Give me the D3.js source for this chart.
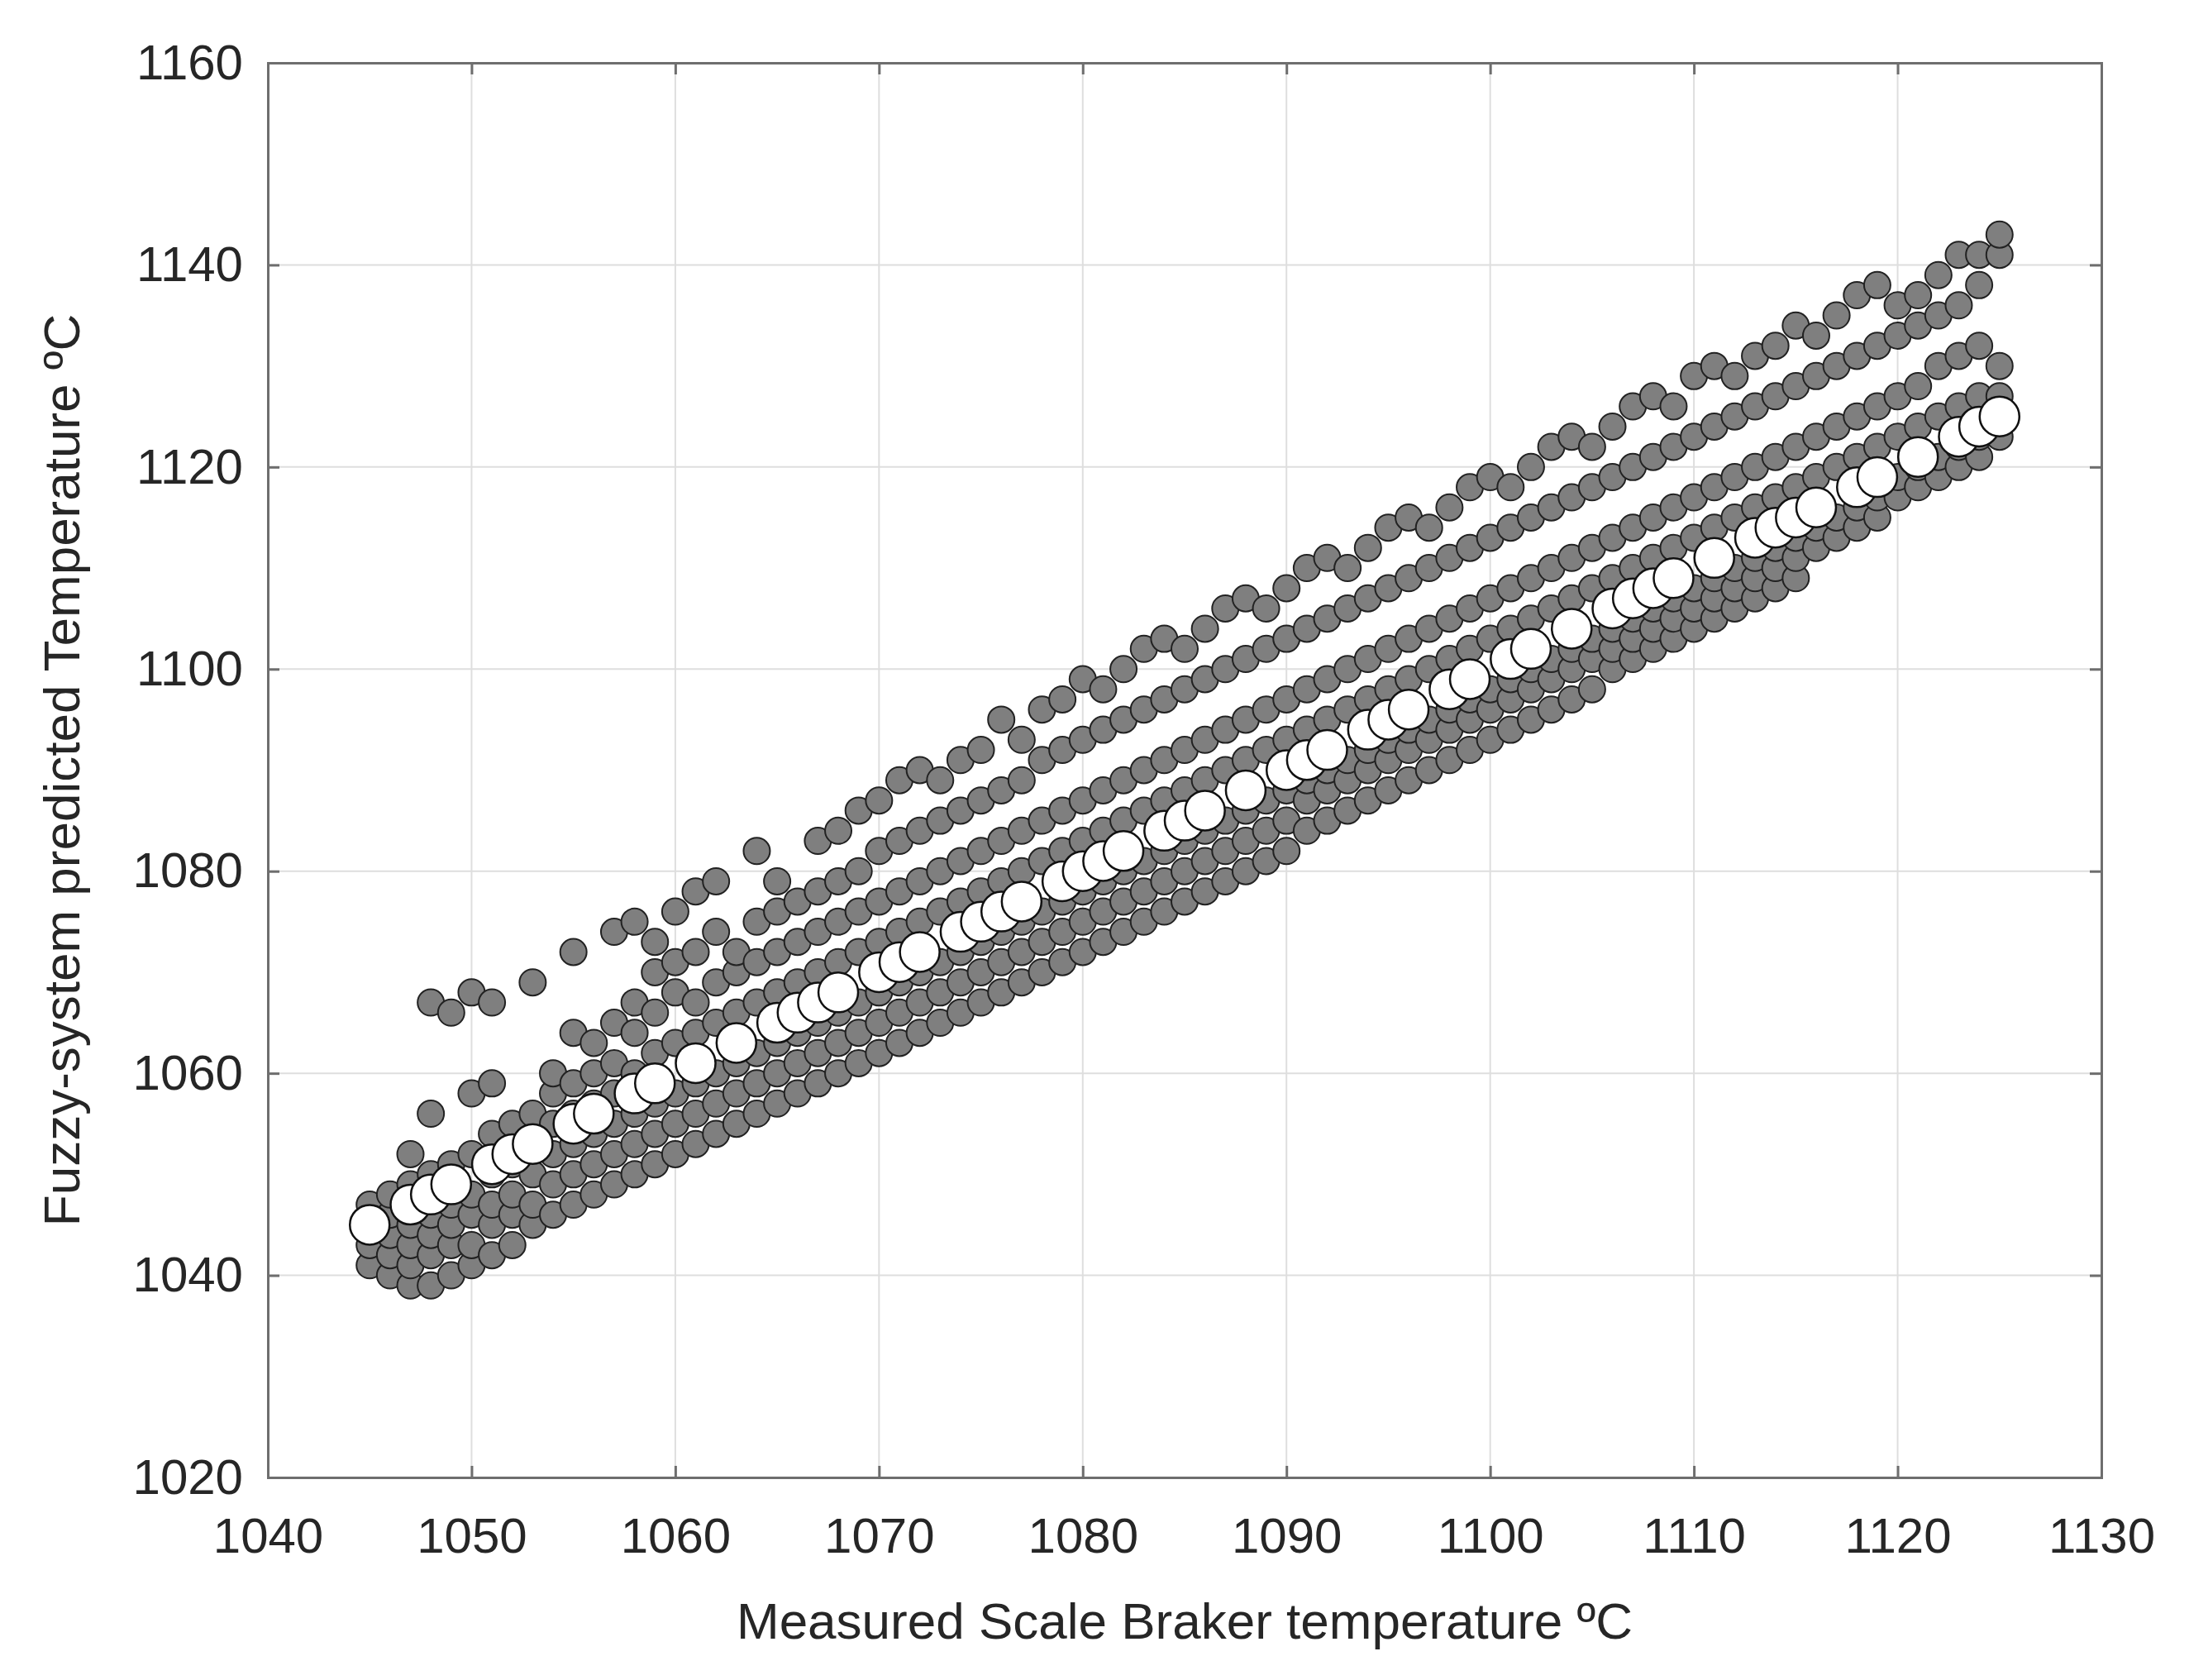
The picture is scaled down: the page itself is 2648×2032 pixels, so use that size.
<!doctype html>
<html lang="en">
<head>
  <meta charset="utf-8">
  <title>Fuzzy system prediction</title>
  <style>
    body { margin: 0; background: #fff; }
    text { font-family: "Liberation Sans", Arial, sans-serif; fill: #262626; }
  </style>
</head>
<body>
  <div id="chart"></div>
  <script src="https://cdn.jsdelivr.net/npm/d3@7"></script>
  <script>
  // measured temperature -> predicted temperatures (grey points)
  var grey = [
    [1045,[1041,1043,1045,1047]],
    [1046,[1040,1042,1044,1046,1048]],
    [1047,[1039,1041,1043,1045,1049,1052]],
    [1048,[1039,1042,1044,1046,1050,1056,1067]],
    [1049,[1040,1043,1045,1047,1051,1066]],
    [1050,[1041,1043,1046,1048,1052,1058,1068]],
    [1051,[1042,1045,1047,1050,1054,1059,1067]],
    [1052,[1043,1046,1048,1051,1055]],
    [1053,[1045,1047,1050,1053,1056,1069]],
    [1054,[1046,1049,1052,1055,1058,1060]],
    [1055,[1047,1050,1053,1056,1059,1064,1072]],
    [1056,[1048,1051,1054,1057,1060,1063]],
    [1057,[1049,1052,1055,1058,1061,1065,1074]],
    [1058,[1050,1053,1056,1060,1064,1067,1075]],
    [1059,[1051,1054,1057,1062,1066,1070,1073]],
    [1060,[1052,1055,1058,1063,1068,1071,1076]],
    [1061,[1053,1056,1059,1064,1067,1072,1078]],
    [1062,[1054,1057,1060,1065,1069,1074,1079]],
    [1063,[1055,1058,1061,1066,1070,1072]],
    [1064,[1056,1059,1062,1067,1071,1075,1082]],
    [1065,[1057,1060,1063,1068,1072,1076,1079]],
    [1066,[1058,1061,1064,1069,1073,1077]],
    [1067,[1059,1062,1065,1070,1074,1078,1083]],
    [1068,[1060,1063,1066,1071,1075,1079,1084]],
    [1069,[1061,1064,1067,1072,1076,1080,1086]],
    [1070,[1062,1065,1068,1073,1077,1082,1087]],
    [1071,[1063,1066,1069,1074,1078,1083,1089]],
    [1072,[1064,1067,1070,1075,1079,1084,1090]],
    [1073,[1065,1068,1071,1076,1080,1085,1089]],
    [1074,[1066,1069,1072,1077,1081,1086,1091]],
    [1075,[1067,1070,1073,1078,1082,1087,1092]],
    [1076,[1068,1071,1074,1079,1083,1088,1095]],
    [1077,[1069,1072,1075,1080,1084,1089,1093]],
    [1078,[1070,1073,1076,1081,1085,1091,1096]],
    [1079,[1071,1074,1077,1082,1086,1092,1097]],
    [1080,[1072,1075,1078,1083,1087,1093,1099]],
    [1081,[1073,1076,1079,1084,1088,1094,1098]],
    [1082,[1074,1077,1080,1085,1089,1095,1100]],
    [1083,[1075,1078,1081,1086,1090,1096,1102]],
    [1084,[1076,1079,1082,1087,1091,1097,1103]],
    [1085,[1077,1080,1083,1088,1092,1098,1102]],
    [1086,[1078,1081,1084,1089,1093,1099,1104]],
    [1087,[1079,1082,1085,1090,1094,1100,1106]],
    [1088,[1080,1083,1086,1091,1095,1101,1107]],
    [1089,[1081,1084,1087,1092,1096,1102,1106]],
    [1090,[1082,1085,1088,1093,1097,1103,1108]],
    [1091,[1084,1087,1089,1094,1098,1104,1110]],
    [1092,[1085,1088,1090,1095,1099,1105,1111]],
    [1093,[1086,1089,1091,1096,1100,1106,1110]],
    [1094,[1087,1090,1092,1097,1101,1107,1112]],
    [1095,[1088,1091,1093,1098,1102,1108,1114]],
    [1096,[1089,1092,1094,1099,1103,1109,1115]],
    [1097,[1090,1093,1095,1100,1104,1110,1114]],
    [1098,[1091,1094,1096,1101,1105,1111,1116]],
    [1099,[1092,1095,1097,1102,1106,1112,1118]],
    [1100,[1093,1096,1098,1103,1107,1113,1119]],
    [1101,[1094,1097,1099,1104,1108,1114,1118]],
    [1102,[1095,1098,1100,1105,1109,1115,1120]],
    [1103,[1096,1099,1101,1106,1110,1116,1122]],
    [1104,[1097,1100,1102,1107,1111,1117,1123]],
    [1105,[1098,1101,1103,1108,1112,1118,1122]],
    [1106,[1100,1102,1104,1109,1113,1119,1124]],
    [1107,[1101,1103,1105,1110,1114,1120,1126]],
    [1108,[1102,1104,1106,1111,1115,1121,1127]],
    [1109,[1103,1105,1107,1112,1116,1122,1126]],
    [1110,[1104,1106,1108,1113,1117,1123,1129]],
    [1111,[1105,1107,1109,1114,1118,1124,1130]],
    [1112,[1106,1108,1110,1115,1119,1125,1129]],
    [1113,[1107,1109,1111,1116,1120,1126,1131]],
    [1114,[1108,1110,1112,1117,1121,1127,1132]],
    [1115,[1109,1111,1113,1118,1122,1128,1134]],
    [1116,[1112,1114,1119,1123,1129,1133]],
    [1117,[1113,1115,1120,1124,1130,1135]],
    [1118,[1114,1116,1121,1125,1131,1137]],
    [1119,[1115,1117,1122,1126,1132,1138]],
    [1120,[1117,1119,1123,1127,1133,1136]],
    [1121,[1118,1120,1124,1128,1134,1137]],
    [1122,[1119,1121,1125,1130,1135,1139]],
    [1123,[1120,1122,1126,1131,1136,1141]],
    [1124,[1121,1123,1127,1132,1138,1141]],
    [1125,[1123,1125,1127,1130,1141,1143]]
  ];
  // measured values shown as white reference points (predicted = measured)
  var ideal = [1045,1047,1048,1049,1051,1052,1053,1055,1056,1058,1059,1061,1063,1065,1066,1067,1068,
    1070,1071,1072,1074,1075,1076,1077,1079,1080,1081,1082,1084,1085,1086,1088,1090,1091,1092,1094,
    1095,1096,1098,1099,1101,1102,1104,1106,1107,1108,1109,1111,1113,1114,1115,1116,1118,1119,1121,
    1123,1124,1125];
  var xTicks = [1040,1050,1060,1070,1080,1090,1100,1110,1120,1130];
  var yTicks = [1020,1040,1060,1080,1100,1120,1140,1160];

  var width = 2648, height = 2032;
  var m = {left: 324, right: 2542, top: 76, bottom: 1787};

  var x = d3.scaleLinear().domain([1040, 1130]).range([m.left, m.right]);
  var y = d3.scaleLinear().domain([1020, 1160]).range([m.bottom, m.top]);

  var svg = d3.select("#chart").append("svg")
      .attr("width", width).attr("height", height);

  // grid
  svg.append("g").selectAll("line").data(xTicks).enter().append("line")
    .attr("x1", x).attr("x2", x).attr("y1", m.top).attr("y2", m.bottom)
    .attr("stroke", "#dedede").attr("stroke-width", 2);
  svg.append("g").selectAll("line").data(yTicks).enter().append("line")
    .attr("y1", y).attr("y2", y).attr("x1", m.left).attr("x2", m.right)
    .attr("stroke", "#dedede").attr("stroke-width", 2);

  var pts = [];
  grey.forEach(function(r) { r[1].forEach(function(v) { pts.push([r[0], v]); }); });

  svg.append("g").selectAll("circle").data(pts).enter().append("circle")
    .attr("cx", function(d) { return x(d[0]); })
    .attr("cy", function(d) { return y(d[1]); })
    .attr("r", 16)
    .attr("fill", "#7f7f7f").attr("stroke", "#222").attr("stroke-width", 2);

  svg.append("g").selectAll("circle").data(ideal).enter().append("circle")
    .attr("cx", x).attr("cy", y)
    .attr("r", 24)
    .attr("fill", "#fff").attr("stroke", "#111").attr("stroke-width", 2.5);

  // axes
  var xa = svg.append("g").attr("transform", "translate(0," + m.bottom + ")")
    .call(d3.axisBottom(x).tickValues(xTicks).tickSize(-14).tickPadding(48).tickFormat(d3.format("d")));
  var xa2 = svg.append("g").attr("transform", "translate(0," + m.top + ")")
    .call(d3.axisTop(x).tickValues(xTicks).tickSize(-14).tickFormat(""));
  var ya = svg.append("g").attr("transform", "translate(" + m.left + ",0)")
    .call(d3.axisLeft(y).tickValues(yTicks).tickSize(-14).tickPadding(30).tickFormat(d3.format("d")));
  var ya2 = svg.append("g").attr("transform", "translate(" + m.right + ",0)")
    .call(d3.axisRight(y).tickValues(yTicks).tickSize(-14).tickFormat(""));
  [xa, xa2, ya, ya2].forEach(function(g) {
    g.selectAll("path, line").attr("stroke", "#6e6e6e").attr("stroke-width", 3);
    g.selectAll("text").style("font-size", "60px").attr("fill", "#262626")
      .style("font-family", "'Liberation Sans', Arial, sans-serif");
  });

  svg.append("text").attr("x", (m.left + m.right) / 2).attr("y", 1982)
    .attr("text-anchor", "middle").style("font-size", "62px")
    .text("Measured Scale Braker temperature ºC");
  svg.append("text").attr("transform", "translate(96," + ((m.top + m.bottom) / 2) + ") rotate(-90)")
    .attr("text-anchor", "middle").style("font-size", "62px")
    .text("Fuzzy-system predicted Temperature ºC");
  </script>
</body>
</html>
